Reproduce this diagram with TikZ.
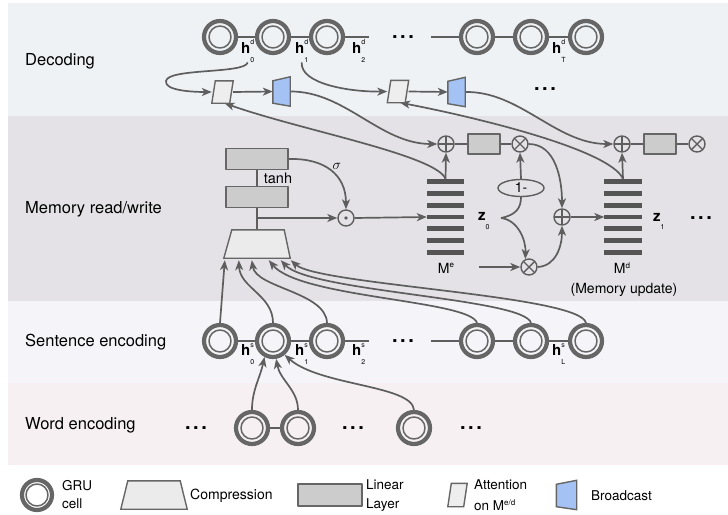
\documentclass[tikz,border=0pt]{standalone}
\usepackage{fontspec}
\setmainfont{TeX Gyre Heros}
\usetikzlibrary{arrows.meta,calc,shapes.geometric}
\definecolor{bandD}{HTML}{EFF2F5}
\definecolor{bandM}{HTML}{E4E2E7}
\definecolor{bandS}{HTML}{F5F5F9}
\definecolor{bandW}{HTML}{F6F0F2}
\definecolor{ring}{HTML}{666666}
\definecolor{ln}{HTML}{5E5E5E}
\definecolor{linfill}{HTML}{CCCCCC}
\definecolor{compfill}{HTML}{EBEBEB}
\definecolor{attfill}{HTML}{EEEEEE}
\definecolor{bcfill}{HTML}{A4C2F4}
\definecolor{barc}{HTML}{555555}
\pgfdeclarelayer{bg}\pgfdeclarelayer{mid}
\pgfsetlayers{bg,mid,main}
\newcommand{\hlab}[3]{\textbf{#1}\rlap{\raisebox{1.1ex}{\fontsize{7}{7}\selectfont #2}}\raisebox{-1.1ex}{\fontsize{7}{7}\selectfont #3}}
\newcommand{\Mlab}[1]{M\raisebox{0.75ex}{\fontsize{8}{8}\selectfont #1}}
\newcommand{\tdots}{{\fontsize{20}{20}\selectfont\bfseries .\hspace{2.5pt}.\hspace{2.5pt}.}}
\begin{document}
\begin{tikzpicture}[x=1pt,y=-1pt,line join=round,
  gru/.style={circle,draw=ring,line width=4.2pt,minimum size=32pt,inner sep=0pt,
    path picture={\draw[ring,line width=1.5pt] (path picture bounding box.center) circle (11pt);}},
  link/.style={draw=ln,line width=1.7pt},
  arr/.style={draw=ln,line width=1.7pt,-{Stealth[length=10pt,width=8pt,inset=2.8pt]}},
  opc/.style={circle,draw=ln,line width=1.4pt,minimum size=16pt,inner sep=0pt},
  oplus/.style={opc,path picture={\draw[ln,line width=1.4pt] (path picture bounding box.north) -- (path picture bounding box.south) (path picture bounding box.west) -- (path picture bounding box.east);}},
  otimes/.style={opc,path picture={\draw[ln,line width=1.4pt] (path picture bounding box.north west) -- (path picture bounding box.south east) (path picture bounding box.north east) -- (path picture bounding box.south west);}},
  odot/.style={opc,path picture={\fill[ln] (path picture bounding box.center) circle (1.9pt);}},
  linear/.style={rectangle,draw=ring,line width=1.4pt,fill=linfill,inner sep=0pt},
  slot/.style={rectangle,inner sep=0pt,draw=none},
  shapeline/.style={draw=ring,line width=1.4pt,line join=miter},
  bar/.style={draw=barc,line width=4.8pt},
  band/.style={font=\fontsize{16.5}{19}\selectfont,anchor=west,inner sep=0pt},
  lab/.style={font=\fontsize{14}{16}\selectfont,inner sep=0pt},
  hl/.style={font=\fontsize{15}{16}\selectfont,inner sep=0pt,anchor=west},
  leg/.style={font=\fontsize{13.5}{15}\selectfont,inner sep=0pt,anchor=west},
  dots/.style={inner sep=0pt},
]
\useasboundingbox (0,0) rectangle (728,514);
\begin{pgfonlayer}{bg}
\fill[white] (0,0) rectangle (728,514);
\fill[bandD] (8,3) rectangle (728,116);
\fill[bandM] (8,116) rectangle (728,301);
\fill[bandS] (8,301) rectangle (728,383);
\fill[bandW] (8,383) rectangle (728,465);
\end{pgfonlayer}

% band titles
\node[band] (tD) at (25,61) {Decoding};
\node[band] (tM) at (25,209) {Memory read/write};
\node[band] (tS) at (25,342) {Sentence encoding};
\node[band] (tW) at (25,425) {Word encoding};

% GRU cells
\foreach \n/\x in {d1/220,d2/273,d3/327,d4/477,d5/531,d6/586} \node[gru] (\n) at (\x,37) {};
\foreach \n/\x in {s1/220,s2/273,s3/327,s4/477,s5/531,s6/586} \node[gru] (\n) at (\x,341) {};
\node[gru] (w1) at (252,428) {};
\node[gru] (w2) at (298,428) {};
\node[gru] (w3) at (414,428) {};
\coordinate (d3e) at (369,37);
\coordinate (d4w) at (431,37);
\coordinate (s3e) at (369,341);
\coordinate (s4w) at (431,341);

% labels
\node[hl] (hd0) at (241,51) {\hlab{h}{d}{0}};
\node[hl] (hd1) at (295,51) {\hlab{h}{d}{1}};
\node[hl] (hd2) at (352,51) {\hlab{h}{d}{2}};
\node[hl] (hdT) at (552,51) {\hlab{h}{d}{T}};
\node[hl] (hs0) at (241,354) {\hlab{h}{s}{0}};
\node[hl] (hs1) at (295,354) {\hlab{h}{s}{1}};
\node[hl] (hs2) at (352,354) {\hlab{h}{s}{2}};
\node[hl] (hsL) at (552,354) {\hlab{h}{s}{L}};

% dots
\node[dots] (dt1) at (403,37) {\tdots};
\node[dots] (dt2) at (545,89) {\tdots};
\node[dots] (dt3) at (701,218) {\tdots};
\node[dots] (dt4) at (403,341) {\tdots};
\node[dots] (dt5) at (196,428) {\tdots};
\node[dots] (dt6) at (353,428) {\tdots};
\node[dots] (dt7) at (471,428) {\tdots};

% attention and broadcast
\node[slot,minimum width=21pt,minimum height=22pt] (att1) at (222.5,92) {};
\node[slot,minimum width=21pt,minimum height=22pt] (att2) at (398,91.5) {};
\foreach \a in {att1,att2}
  \draw[shapeline,fill=attfill] ($(\a.north west)+(3.5,0)$) -- (\a.north east) -- ($(\a.south east)+(-3.5,0)$) -- (\a.south west) -- cycle;
\node[slot,minimum width=17pt,minimum height=29pt] (bc1) at (281.5,91.5) {};
\node[slot,minimum width=17pt,minimum height=29pt] (bc2) at (456.5,92) {};
\foreach \b in {bc1,bc2}
  \draw[shapeline,fill=bcfill] ($(\b.north west)+(0,4)$) -- (\b.north east) -- (\b.south east) -- ($(\b.south west)+(0,-3)$) -- cycle;

% memory read/write
\node[linear,minimum width=62pt,minimum height=21pt] (lin1) at (257,159) {};
\node[linear,minimum width=62pt,minimum height=21pt] (lin2) at (257,197) {};
\node[lab,font=\fontsize{14.5}{16}\selectfont] (tanh) at (278,178) {tanh};
\node[slot,minimum width=66pt,minimum height=28pt] (comp) at (257,244) {};
\draw[shapeline,fill=compfill] (comp.south west) -- (comp.south east) -- ($(comp.north east)+(-6,0)$) -- ($(comp.north west)+(8,0)$) -- cycle;
\node[odot] (dot) at (346,218) {};
\node[lab,font=\fontsize{15}{15}\selectfont] (sig) at (337,166) {$\sigma$};

\node[slot,minimum width=37pt,minimum height=76pt] (Me) at (445.5,217) {};
\node[slot,minimum width=37pt,minimum height=76pt] (Md) at (623,217) {};
\foreach \m in {Me,Md}
  \foreach \k in {-3,...,3}
    \draw[bar] ($(\m.west)+(0,\k*11.75)$) -- ($(\m.east)+(0,\k*11.75)$);
\node[lab] (Mel) at (446,268) {\Mlab{e}};
\node[lab] (Mdl) at (622,268) {\Mlab{d}};
\node[lab] (mu) at (624,290) {(Memory update)};

\node[oplus] (op1) at (446,144) {};
\node[linear,minimum width=32pt,minimum height=20pt] (r1) at (484,144) {};
\node[otimes] (ot1) at (520,144) {};
\node[ellipse,draw=ln,line width=1.4pt,minimum width=46pt,minimum height=17pt,inner sep=0pt,font=\fontsize{14}{14}\selectfont] (one) at (521,188) {1-};
\node[otimes] (ot3) at (529,267) {};
\node[oplus] (op3) at (562,217) {};
\node[oplus] (op2) at (622,144) {};
\node[linear,minimum width=32pt,minimum height=20pt] (r2) at (660,144) {};
\node[otimes] (ot2) at (697,144) {};
\node[hl] (z0) at (478,221) {\hlab{z}{}{0}};
\node[hl] (z1) at (653,221) {\hlab{z}{}{1}};

% legend
\node[gru,minimum size=30pt] (lg1) at (37,495) {};
\node[leg] (lgt1) at (62,486) {GRU};
\node[leg] (lgt1b) at (62,504) {cell};
\node[slot,minimum width=66pt,minimum height=28pt] (lg2) at (154,495) {};
\draw[shapeline,fill=compfill] (lg2.south west) -- (lg2.south east) -- ($(lg2.north east)+(-7,0)$) -- ($(lg2.north west)+(7,0)$) -- cycle;
\node[leg,font=\fontsize{14}{16}\selectfont] (lgt2) at (190,496) {Compression};
\node[linear,minimum width=64pt,minimum height=22pt] (lg3) at (330,495) {};
\node[leg] (lgt3) at (366,485) {Linear};
\node[leg] (lgt3b) at (366,505) {Layer};
\node[slot,minimum width=19pt,minimum height=23pt] (lg4) at (457.5,495) {};
\draw[shapeline,fill=attfill] ($(lg4.north west)+(3.5,0)$) -- (lg4.north east) -- ($(lg4.south east)+(-3.5,0)$) -- (lg4.south west) -- cycle;
\node[leg] (lgt4) at (474,485) {Attention};
\node[leg] (lgt4b) at (474,505) {on\ \Mlab{e/d}};
\node[slot,minimum width=20pt,minimum height=29pt] (lg5) at (566.5,495) {};
\draw[shapeline,fill=bcfill] ($(lg5.north west)+(0,4)$) -- (lg5.north east) -- (lg5.south east) -- ($(lg5.south west)+(0,-3)$) -- cycle;
\node[leg] (lgt5) at (591,496) {Broadcast};

\begin{pgfonlayer}{mid}
% chains
\draw[link] (d1)--(d2) (d2)--(d3) (d3)--(d3e) (d4w)--(d4) (d4)--(d5) (d5)--(d6);
\draw[link] (s1)--(s2) (s2)--(s3) (s3)--(s3e) (s4w)--(s4) (s4)--(s5) (s5)--(s6);
\draw[link] (w1)--(w2);
% decoding
\draw[arr] (hd0.south) .. controls (245,74) and (168,68) .. (166,81) .. controls (164,91) and (195,92) .. (att1.west);
\draw[arr] (hd1.south) .. controls (300,84) and (350,92) .. (att2.west);
\draw[arr] (att1.east) -- (bc1.west);
\draw[arr] (att2.east) -- (bc2.west);
\draw[arr] (bc1.east) .. controls (345,91) and (380,144) .. (op1.west);
\draw[arr] (bc2.east) .. controls (520,91) and (556,144) .. (op2.west);
\draw[arr] (Me.north) .. controls (436,155) and (300,130) .. ($(att1.south)+(2,0)$);
\draw[arr] (Md.north) .. controls (610,150) and (480,118) .. ($(att2.south)+(2,0)$);
\draw[arr] (Me.north) -- (op1.south);
\draw[arr] (Md.north) -- (op2.south);
% memory
\draw[link] (lin1) -- (lin2);
\draw[link] (lin2.south) -- (lin2.south |- comp.north);
\draw[arr] (lin2.south |- dot.west) -- (dot.west);
\draw[arr] (lin1.east) .. controls (325,158) and (346,175) .. (dot.north);
\draw[arr] (dot.east) -- (Me.west);
\draw[link] (op1) -- (r1) (r1) -- (ot1) (op2) -- (r2) (r2) -- (ot2);
\draw[arr] (one.north) -- (ot1.south);
\coordinate (zf) at (501,218);
\draw[link] (zf) .. controls (516,215) and (521,208) .. (one.south);
\draw[arr] (zf) .. controls (518,220) and (526,240) .. (ot3.115);
\coordinate (min) at (479,267);
\draw[arr] (min) -- (ot3.west);
\draw[arr] (ot3.east) .. controls (556,266) and (562,246) .. (op3.south);
\draw[arr] (ot1.east) .. controls (556,144) and (562,180) .. (op3.north);
\draw[arr] (op3.east) -- (Md.west);
% compression inputs
\draw[arr] (s1.north) -- ($(comp.south west)+(1,2)$);
\draw[arr] (s2.north) .. controls (273,295) and (240,288) .. ($(comp.south west)+(15,2)$);
\draw[arr] (s3.north) .. controls (326,292) and (256,288) .. ($(comp.south west)+(28,2)$);
\draw[arr] (s4.north) .. controls (470,300) and (300,298) .. ($(comp.south west)+(45,2)$);
\draw[arr] (s5.north) .. controls (524,298) and (310,292) .. ($(comp.south west)+(57,2)$);
\draw[arr] (s6.north) .. controls (580,295) and (318,285) .. ($(comp.south west)+(67,2)$);
% word to sentence
\draw[arr] (w1.north) .. controls (252,390) and (260,378) .. (s2.-118);
\draw[arr] (w2.north) .. controls (298,390) and (280,380) .. (s2.-80);
\draw[arr] (w3.north) .. controls (412,385) and (320,386) .. (s2.-50);
\end{pgfonlayer}
\end{tikzpicture}
\end{document}
